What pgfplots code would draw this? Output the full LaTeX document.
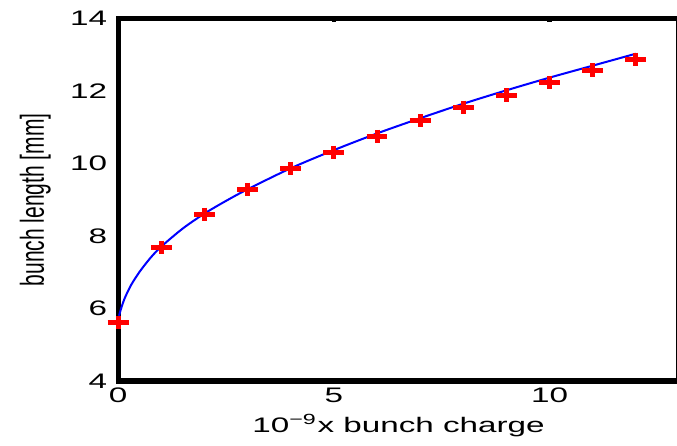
\documentclass[border=0pt]{standalone}
\usepackage{fontspec}
\setmainfont{Liberation Sans}
\usepackage{pgfplots}
\pgfplotsset{compat=1.18}
\usetikzlibrary{calc}

% the reference is stretched sideways, so text and marks get xscale
\def\hs{1.58}

\begin{document}
\begin{tikzpicture}
\begin{axis}[
  scale only axis,
  width=280pt, height=181pt,
  xmin=0, xmax=13, ymin=4, ymax=14,
  xtick={0,5,10}, ytick={4,6,...,14},
  tick align=inside,
  major tick length=1.6pt,
  every tick/.style={black, line width=2.2pt},
  axis line style={line width=2.6pt},
  font=\fontsize{10.5}{12}\selectfont,
  /pgf/number format/assume math mode=true,
  xticklabel style={xscale=\hs},
  yticklabel style={xscale=\hs},
  xlabel={10\textsuperscript{−9}x bunch charge},
  ylabel={bunch length [mm]},
  xlabel style={at={(axis description cs:0.5,-0.124)}, anchor=center, xscale=\hs},
  ylabel style={at={(axis description cs:-0.148,0.5)}, anchor=center, yscale=\hs},
]
% fitted curve
\addplot[blue, line width=1pt, smooth, no marks] coordinates {
  (0.02,5.80) (0.06,5.97) (0.15,6.28) (0.30,6.65) (0.50,7.02) (0.75,7.40)
  (1,7.71) (1.5,8.21) (2,8.62) (2.5,8.97) (3,9.29) (4,9.87) (5,10.37)
  (6,10.83) (7,11.25) (8,11.65) (9,12.02) (10,12.37) (11,12.70) (12,13.03)
};
% measured points
\addplot[only marks, red, mark=+, mark size=3.3pt,
  mark options={line width=2.5pt, xscale=\hs}] coordinates {
  (0,5.62) (1,7.69) (2,8.60) (3,9.29) (4,9.87) (5,10.31) (6,10.75)
  (7,11.19) (8,11.55) (9,11.89) (10,12.23) (11,12.58) (12,12.88)
};
\end{axis}
\pgfresetboundingbox
\path ($(current axis.south west)+(-59pt,-32.25pt)$) rectangle ($(current axis.north east)+(-1pt,9.25pt)$);
\end{tikzpicture}
\end{document}
